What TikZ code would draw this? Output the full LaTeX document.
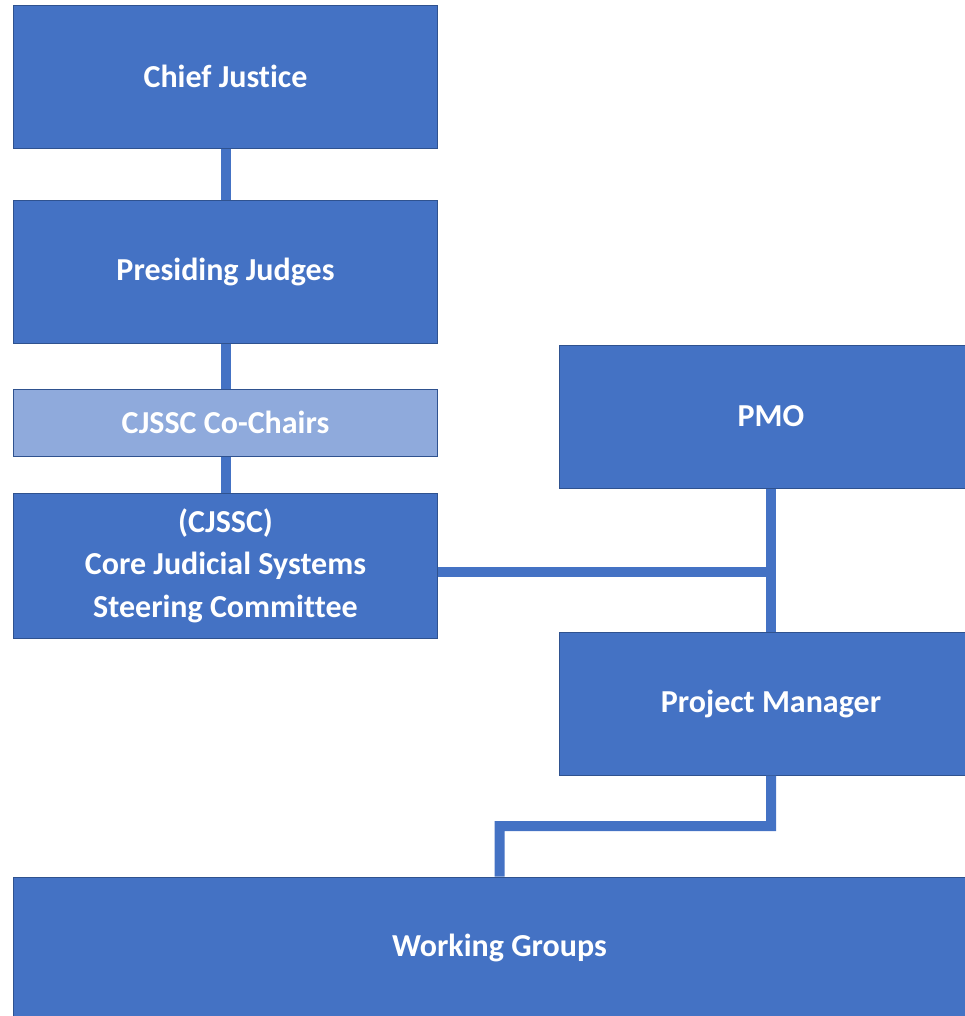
\documentclass[tikz,border=0pt]{standalone}
\usepackage{fontspec}
\setmainfont{Carlito}[RawFeature={-liga}]
\usetikzlibrary{calc}
\definecolor{boxblue}{HTML}{4472C4}
\definecolor{boxedge}{HTML}{2F528F}
\definecolor{lightblue}{HTML}{8FAADC}
\begin{document}
\begin{tikzpicture}[x=1bp,y=-1bp,
  orgbox/.style={draw=boxedge,line width=1bp,fill=boxblue,text=white,
    minimum width=423bp,minimum height=143bp,inner sep=0pt,align=center,
    font=\fontsize{32bp}{42.5bp}\selectfont\bfseries},
  chairbox/.style={orgbox,fill=lightblue,minimum height=67bp},
  link/.style={draw=boxblue,line width=10bp}]
\useasboundingbox (0,0) rectangle (965,1016);
\clip (0,0) rectangle (965,1016);
% boxes of the chart
\node[orgbox] (cj) at (225.5,76.5) {Chief Justice};
\node[orgbox] (pj) at (225.5,271.5) {Presiding Judges};
\node[chairbox] (cc) at (225.5,422.5) {CJSSC Co-Chairs};
\node[orgbox,minimum height=145bp] (sc) at (225.5,565.5) {(CJSSC)\\Core Judicial Systems\\Steering Committee};
\node[orgbox] (pmo) at (771,416.5) {PMO};
\node[orgbox] (pm) at (771,703.5) {Project Manager};
\node[orgbox,minimum width=971bp,minimum height=142bp] (wg) at (499.5,948) {Working Groups};
% reporting lines between the boxes
\path[link] (cj.south) -- (pj.north);
\path[link] (pj.south) -- (cc.north);
\path[link] (cc.south) -- (sc.north);
\path[link] ([yshift=-6.5bp]sc.east) -- ([yshift=-6.5bp]sc.east -| pmo.south);
\path[link] (pmo.south) -- (pm.north);
\coordinate (turn) at ($(pm.south)!0.5!(pm.south |- wg.north)$);
\path[link] (pm.south) -- (turn) -| (wg.north);
\end{tikzpicture}
\end{document}
